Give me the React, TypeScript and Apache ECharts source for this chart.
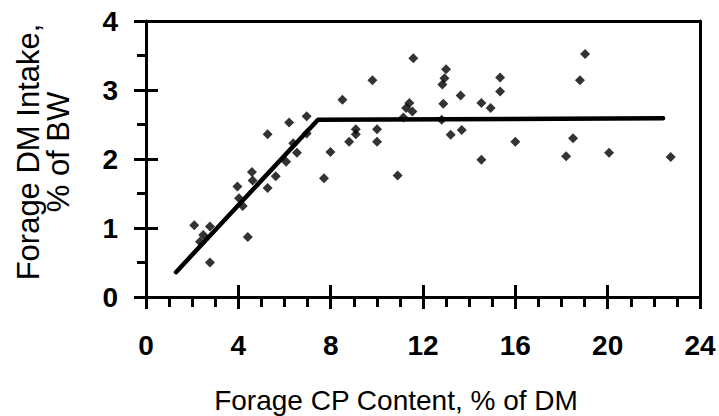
import React, { useEffect, useRef } from "react";
import * as echarts from "echarts";

const cpContent = [
  6.96, 6.2, 5.27, 6.96, 6.38, 6.54, 7.99, 6.07, 7.71, 4.59, 5.62, 4.62, 3.96, 5.27, 4.03, 4.19, 2.09, 2.77, 2.48, 2.34, 4.41, 2.77,
  11.58, 9.81, 8.51, 13.0, 12.93, 12.84, 11.41, 11.27, 11.54, 11.15, 12.88, 12.81, 13.63, 9.09, 9.09, 10.01, 10.01, 8.8, 10.9, 13.2, 13.68,
  14.53, 14.93, 15.34, 15.34, 14.53, 16.0, 18.5, 18.2,
  19.02, 18.8, 20.06, 22.73,
];
const dmIntake = [
  2.62, 2.53, 2.36, 2.37, 2.23, 2.09, 2.1, 1.96, 1.72, 1.81, 1.75, 1.69, 1.6, 1.58, 1.43, 1.32, 1.04, 1.02, 0.9, 0.8, 0.87, 0.5,
  3.46, 3.14, 2.86, 3.3, 3.17, 3.08, 2.81, 2.74, 2.69, 2.6, 2.8, 2.57, 2.92, 2.43, 2.36, 2.43, 2.25, 2.25, 1.76, 2.35, 2.42,
  2.81, 2.74, 3.18, 2.98, 1.99, 2.25, 2.3, 2.04,
  3.52, 3.14, 2.09, 2.03,
];
const fitX = [1.3, 7.45, 22.4];
const fitY = [0.36, 2.57, 2.59];

const xTitle = "Forage CP Content, % of DM";
const yTitle = "Forage DM Intake,\n% of BW";

const FONT = '"Liberation Sans", Arial, sans-serif';
const BLACK = "#000";
const LW = 3;

function tickAxis(min: number, max: number, interval: number, position: string, minorSplit: number, minorLen: number, withLabels: boolean, labelMargin: number) {
  return {
    type: "value", min, max, interval, position,
    axisLine: { show: true, onZero: false, lineStyle: { color: BLACK, width: LW } },
    axisTick: { show: true, inside: false, length: 12, lineStyle: { color: BLACK, width: LW } },
    minorTick: { show: true, splitNumber: minorSplit, length: minorLen, lineStyle: { color: BLACK, width: LW } },
    axisLabel: withLabels
      ? { show: true, fontSize: 28, fontWeight: "bold", color: BLACK, margin: labelMargin, fontFamily: FONT }
      : { show: false },
    splitLine: { show: false },
  };
}
function innerTickAxis(min: number, max: number, interval: number, position: string) {
  return {
    type: "value", min, max, interval, position,
    axisLine: { show: false, onZero: false },
    axisTick: { show: true, inside: true, length: 12, lineStyle: { color: BLACK, width: LW } },
    axisLabel: { show: false },
    splitLine: { show: false },
  };
}
function frameAxis(min: number, max: number, position: string) {
  return {
    type: "value", min, max, position,
    axisLine: { show: true, onZero: false, lineStyle: { color: BLACK, width: LW } },
    axisTick: { show: false },
    axisLabel: { show: false },
    splitLine: { show: false },
  };
}

export default function App() {
  const ref = useRef<HTMLDivElement>(null);
  useEffect(() => {
    if (!ref.current) return;
    const chart = echarts.init(ref.current, null, { renderer: "svg" });
    const points = cpContent.map((x, i) => [x, dmIntake[i]]);
    const fit = fitX.map((x, i) => [x, fitY[i]]);
    chart.setOption({
      animation: false,
      grid: { left: 146, right: 19, top: 21, bottom: 119 },
      xAxis: [
        tickAxis(0, 24, 4, "bottom", 4, 10, true, 34),
        innerTickAxis(0, 24, 4, "bottom"),
        frameAxis(0, 24, "top"),
      ],
      yAxis: [
        tickAxis(0, 4, 1, "left", 2, 9, true, 28),
        innerTickAxis(0, 4, 1, "left"),
        frameAxis(0, 4, "right"),
      ],
      series: [
        {
          type: "line", data: fit, xAxisIndex: 0, yAxisIndex: 0,
          symbol: "none", lineStyle: { color: BLACK, width: 4.5, cap: "round" },
          z: 2,
        },
        {
          type: "scatter", data: points, xAxisIndex: 0, yAxisIndex: 0,
          symbol: "diamond", symbolSize: 10, itemStyle: { color: BLACK },
          z: 3,
        },
      ],
      graphic: [
        {
          type: "text", x: 43, y: 152, rotation: Math.PI / 2,
          style: {
            text: yTitle, fontSize: 31, fontFamily: FONT, fill: BLACK,
            align: "center", verticalAlign: "middle", lineHeight: 30,
          },
        },
        {
          type: "text", x: 396, y: 400,
          style: {
            text: xTitle, fontSize: 28, fontFamily: FONT, fill: BLACK,
            align: "center", verticalAlign: "middle",
          },
        },
      ],
    });
    return () => chart.dispose();
  }, []);
  return (
    <div
      ref={ref}
      style={{ position: "fixed", left: 0, top: 0, width: 719, height: 416, background: "#fff" }}
    />
  );
}
